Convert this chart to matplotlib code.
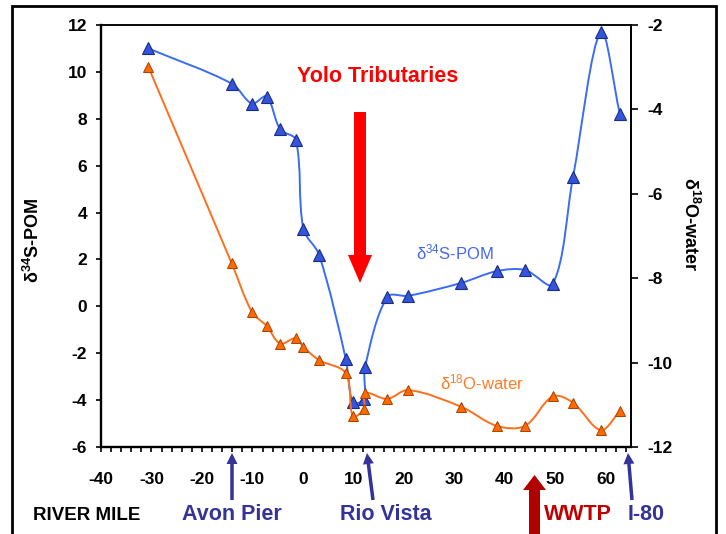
import numpy as np
import matplotlib
matplotlib.use('Agg')
import matplotlib.pyplot as plt
from matplotlib.path import Path
from matplotlib.patches import PathPatch, FancyArrow, Rectangle
from matplotlib.transforms import IdentityTransform

# river mile of each sampling station
river_mile = [-30.6, -14.1, -10.1, -7.2, -4.5, -1.4, 0.1, 3.2, 8.5, 9.9, 12.1,
              12.3, 16.7, 20.9, 31.4, 38.4, 44.0, 49.5, 53.5, 59.0, 62.8]
# d34S of particulate organic matter (left axis)
s34_pom = [11.0, 9.5, 8.65, 8.95, 7.55, 7.1, 3.3, 2.2, -2.25, -4.1, -3.95,
           -2.6, 0.4, 0.45, 1.0, 1.5, 1.55, 0.95, 5.5, 11.7, 8.2]
# d18O of water (right axis)
o18_water = [-3.0, -7.65, -8.8, -9.13, -9.55, -9.42, -9.63, -9.94, -10.25,
             -11.27, -11.1, -10.72, -10.86, -10.65, -11.05, -11.5, -11.5,
             -10.8, -10.95, -11.6, -11.15]

x_ticks = list(range(-40, 61, 10))
left_ticks = list(range(-6, 13, 2))
right_ticks = list(range(-12, -1, 2))

plt.rcParams['font.family'] = ['Liberation Sans', 'DejaVu Sans']
plt.rcParams['mathtext.fontset'] = 'custom'
plt.rcParams['mathtext.rm'] = 'Liberation Sans'
plt.rcParams['mathtext.default'] = 'regular'
plt.rcParams['axes.unicode_minus'] = False

W, H = 726, 534


def smooth_path(a, xs, ys, k=1.0 / 3):
    # smoothed line like the spreadsheet one; built in pixel space so the
    # control arms follow the segment lengths, then mapped back to data
    pts = a.transData.transform(np.column_stack([xs, ys]))
    n = len(pts)
    d = np.hypot(*np.diff(pts, axis=0).T)
    verts = [pts[0]]
    codes = [Path.MOVETO]
    for i in range(n - 1):
        p1, p2 = pts[i], pts[i + 1]
        if i > 0:
            c1 = p1 + (p2 - pts[i - 1]) * d[i] / (d[i - 1] + d[i]) * k
        else:
            c1 = p1 + (p2 - p1) * k
        if i + 2 < n:
            c2 = p2 - (pts[i + 2] - p1) * d[i] / (d[i] + d[i + 1]) * k
        else:
            c2 = p2 - (p2 - p1) * k
        verts += [c1, c2, p2]
        codes += [Path.CURVE4] * 3
    verts = a.transData.inverted().transform(np.array(verts))
    return Path(verts, codes)


def px(x, y):
    return x, H - y


fig = plt.figure(figsize=(W / 100, H / 100), dpi=100)
fig.patch.set_facecolor('white')
ax = fig.add_axes([101 / W, 1 - 447 / H, 530 / W, 422 / H])
ax2 = ax.twinx()

ax.set_xlim(-40, 65)
ax.set_ylim(-6, 12)
ax2.set_ylim(-12, -2)

# series
ax.add_patch(PathPatch(smooth_path(ax, river_mile, s34_pom), fill=False,
                       edgecolor='#3a6cf4', lw=1.4, zorder=2))
ax.plot(river_mile, s34_pom, ls='none', marker='^', ms=8.5,
        mfc='#3355dd', mec='#1c2c80', mew=0.8, zorder=3)
ax2.add_patch(PathPatch(smooth_path(ax2, river_mile, o18_water), fill=False,
                        edgecolor='#ff6e1c', lw=1.4, zorder=2))
ax2.plot(river_mile, o18_water, ls='none', marker='^', ms=7,
         mfc='#ff6a00', mec='#a84000', mew=0.7, zorder=3)

# axes styling
for a in (ax, ax2):
    for s in a.spines.values():
        s.set_linewidth(1.1)
ax.spines['left'].set_linewidth(1.7)
ax.spines['bottom'].set_linewidth(1.7)
ax2.spines['right'].set_linewidth(1.4)

ax.set_xticks(x_ticks)
ax.set_xticks(np.arange(-40, 65, 2), minor=True)
ax.set_yticks(left_ticks)
ax2.set_yticks(right_ticks)
ax.tick_params(axis='x', which='both', direction='out', length=3.8, width=1.2,
               pad=14)
ax.tick_params(axis='y', direction='out', length=3.6, width=1.2, pad=6.5)
ax2.tick_params(axis='y', direction='out', length=5, width=1.2, pad=7)
for lab in ax.get_xticklabels() + ax.get_yticklabels() + ax2.get_yticklabels():
    lab.set_fontsize(12.5)
    lab.set_fontweight('bold')

# axis titles
fig.text(33 / W, 1 - 240 / H, r'$\delta^{34}$S-POM', rotation=90, fontsize=13,
         fontweight='bold', ha='center', va='center')
fig.text(690 / W, 1 - 224 / H, r'$\delta^{18}$O-water', rotation=270,
         fontsize=13, fontweight='bold', ha='center', va='center')

# series labels
fig.text(455 / W, 1 - 252 / H, r'$\delta^{34}$S-POM', fontsize=12,
         color='#4468ee', ha='center', va='center')
fig.text(482 / W, 1 - 382 / H, r'$\delta^{18}$O-water', fontsize=12,
         color='#ff7a22', ha='center', va='center')

# annotations
fig.text(378 / W, 1 - 77 / H, 'Yolo Tributaries', fontsize=15.5,
         fontweight='bold', color='#ff0000', ha='center', va='center')
fig.text(33 / W, 1 - 515 / H, 'RIVER MILE', fontsize=13.5, fontweight='bold',
         color='black', ha='left', va='center')
fig.text(232 / W, 1 - 514 / H, 'Avon Pier', fontsize=15.5, fontweight='bold',
         color='#333399', ha='center', va='center')
fig.text(386 / W, 1 - 514 / H, 'Rio Vista', fontsize=15.5, fontweight='bold',
         color='#333399', ha='center', va='center')
fig.text(578 / W, 1 - 514 / H, 'WWTP', fontsize=15.5, fontweight='bold',
         color='#c00000', ha='center', va='center')
fig.text(646 / W, 1 - 514 / H, 'I-80', fontsize=15.5, fontweight='bold',
         color='#333399', ha='center', va='center')

arrows = [
    # (tail, tip, width, head width, head length, colour)
    ((360, 112), (360, 283), 12, 24, 28, '#ff0000'),
    ((534.5, 545), (534.5, 475), 11, 23, 15, '#b00000'),
    ((232, 500), (232, 453), 3.5, 11, 11, '#333399'),
    ((373, 500), (367, 453), 3.5, 11, 11, '#333399'),
    ((632, 500), (628, 453), 3.5, 11, 11, '#333399'),
]
for (x0, y0), (x1, y1), w, hw, hl, c in arrows:
    sx, sy = px(x0, y0)
    ex, ey = px(x1, y1)
    fig.add_artist(FancyArrow(sx, sy, ex - sx, ey - sy, width=w,
                              head_width=hw, head_length=hl,
                              length_includes_head=True, color=c, lw=0,
                              transform=IdentityTransform()))

# outer frame
fig.add_artist(Rectangle(px(12, 560), 704, 554, fill=False, lw=2,
                         edgecolor='black', transform=IdentityTransform()))

fig.savefig('out.png', dpi=100)
